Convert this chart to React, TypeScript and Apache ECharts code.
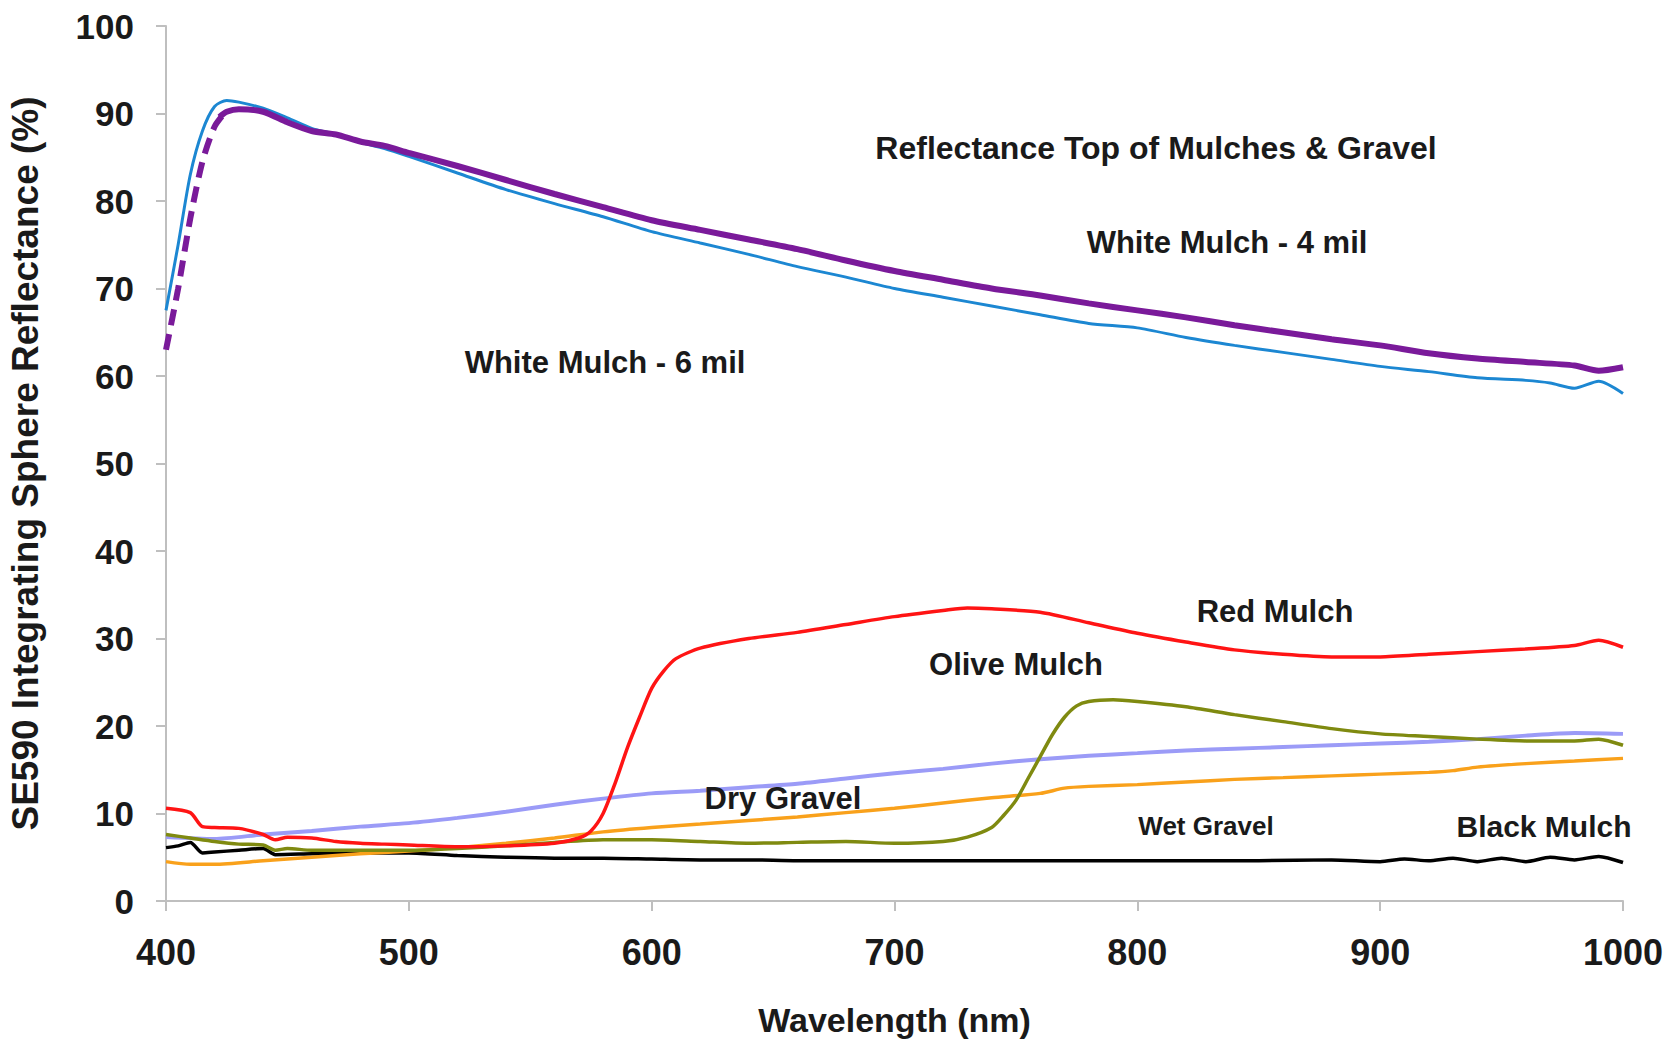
import React, { useEffect, useRef } from "react";
import * as echarts from "echarts";

// Wavelength (nm) sample points per series, reflectance (%) values
const xTicks = [400, 500, 600, 700, 800, 900, 1000];

const mulch6Wl = [400, 405, 410, 415, 420, 425, 430, 440, 450, 460, 470, 480, 490, 500, 520, 540, 560, 580, 600, 620, 640, 660, 680, 700, 720, 740, 760, 780, 800, 820, 840, 860, 880, 900, 920, 940, 960, 970, 980, 990, 1000];
const mulch6Val = [67.5, 75, 83, 88, 90.8, 91.5, 91.3, 90.6, 89.5, 88.3, 87.6, 86.7, 86, 85.1, 83.2, 81.3, 79.7, 78.2, 76.5, 75.2, 73.9, 72.5, 71.3, 70, 69, 68, 67, 66, 65.5, 64.4, 63.5, 62.7, 61.9, 61.1, 60.5, 59.8, 59.5, 59.2, 58.6, 59.4, 58];

const mulch4DashWl = [400, 405, 410, 415, 420, 424];
const mulch4DashVal = [63, 70, 78, 84.5, 88.5, 90];
const mulch4Wl = [422, 425, 430, 440, 450, 460, 470, 480, 490, 500, 520, 540, 560, 580, 600, 620, 640, 660, 680, 700, 720, 740, 760, 780, 800, 820, 840, 860, 880, 900, 920, 940, 960, 980, 990, 1000];
const mulch4Val = [89.6, 90.2, 90.5, 90.2, 89, 88, 87.6, 86.8, 86.3, 85.5, 84, 82.4, 80.8, 79.3, 77.8, 76.7, 75.6, 74.5, 73.2, 72, 71, 70, 69.2, 68.3, 67.5, 66.7, 65.8, 65, 64.2, 63.5, 62.6, 62, 61.6, 61.2, 60.6, 61];

const redWl = [400, 410, 415, 420, 430, 440, 445, 450, 460, 470, 480, 490, 500, 520, 540, 560, 570, 575, 580, 585, 590, 595, 600, 605, 610, 620, 640, 660, 680, 700, 720, 730, 740, 760, 780, 800, 820, 840, 860, 880, 900, 920, 940, 960, 980, 990, 1000];
const redVal = [10.6, 10.1, 8.5, 8.4, 8.3, 7.6, 7.0, 7.3, 7.2, 6.8, 6.6, 6.5, 6.4, 6.2, 6.3, 6.6, 7.2, 8, 10, 13.5, 17.5, 21, 24.3, 26.3, 27.7, 28.9, 30, 30.7, 31.6, 32.5, 33.2, 33.5, 33.4, 33, 31.8, 30.6, 29.6, 28.7, 28.2, 27.9, 27.9, 28.2, 28.5, 28.8, 29.2, 29.8, 29];

const oliveWl = [400, 410, 420, 430, 440, 445, 450, 460, 480, 500, 520, 540, 560, 580, 600, 620, 640, 660, 680, 700, 720, 730, 740, 745, 750, 755, 760, 765, 770, 775, 780, 790, 800, 820, 840, 860, 880, 900, 920, 940, 960, 980, 990, 1000];
const oliveVal = [7.6, 7.2, 6.8, 6.5, 6.4, 5.8, 6.0, 5.8, 5.8, 5.8, 6.0, 6.3, 6.7, 7.0, 7.0, 6.8, 6.6, 6.7, 6.8, 6.6, 6.8, 7.3, 8.4, 9.8, 11.5, 14, 16.5, 19, 21, 22.3, 22.8, 23, 22.8, 22.2, 21.3, 20.5, 19.7, 19.1, 18.8, 18.5, 18.3, 18.3, 18.5, 17.8];

const dryWl = [400, 420, 440, 460, 480, 500, 520, 540, 560, 580, 600, 620, 640, 660, 680, 700, 720, 740, 760, 780, 800, 820, 840, 860, 880, 900, 920, 940, 960, 980, 1000];
const dryVal = [7.3, 7.1, 7.6, 8.0, 8.5, 8.9, 9.5, 10.2, 11, 11.7, 12.3, 12.6, 13, 13.4, 14, 14.6, 15.1, 15.7, 16.2, 16.6, 16.9, 17.2, 17.4, 17.6, 17.8, 18, 18.2, 18.5, 18.9, 19.2, 19.1];

const wetWl = [400, 410, 420, 440, 460, 480, 500, 520, 540, 560, 580, 600, 620, 640, 660, 680, 700, 720, 740, 760, 770, 780, 800, 820, 840, 860, 880, 900, 920, 930, 940, 960, 980, 1000];
const wetVal = [4.5, 4.2, 4.2, 4.6, 5.0, 5.4, 5.7, 6.1, 6.6, 7.2, 7.9, 8.4, 8.8, 9.2, 9.6, 10.1, 10.6, 11.2, 11.8, 12.3, 12.9, 13.1, 13.3, 13.6, 13.9, 14.1, 14.3, 14.5, 14.7, 14.9, 15.3, 15.7, 16, 16.3];

const blackWl = [400, 405, 410, 415, 420, 430, 440, 445, 460, 480, 500, 520, 540, 560, 580, 600, 620, 640, 660, 700, 750, 800, 850, 880, 900, 910, 920, 930, 940, 950, 960, 970, 980, 990, 1000];
const blackVal = [6.1, 6.3, 6.7, 5.5, 5.6, 5.8, 6.0, 5.3, 5.4, 5.5, 5.5, 5.2, 5.0, 4.9, 4.9, 4.8, 4.7, 4.7, 4.6, 4.6, 4.6, 4.6, 4.6, 4.7, 4.5, 4.8, 4.6, 4.9, 4.5, 4.9, 4.5, 5.0, 4.7, 5.1, 4.4];

const labels = [
  { text: "Reflectance Top of Mulches & Gravel", x: 1156, y: 148, size: 32 },
  { text: "White Mulch - 4 mil", x: 1227, y: 242, size: 31 },
  { text: "White Mulch - 6 mil", x: 605, y: 362, size: 31 },
  { text: "Red Mulch", x: 1275, y: 611, size: 31 },
  { text: "Olive Mulch", x: 1016, y: 664, size: 31 },
  { text: "Dry Gravel", x: 783, y: 798, size: 31 },
  { text: "Wet Gravel", x: 1206, y: 826, size: 26 },
  { text: "Black Mulch", x: 1544, y: 826, size: 30 },
];

const zip = (a: number[], b: number[]) => a.map((v, i) => [v, b[i]]);

export default function App() {
  const ref = useRef<HTMLDivElement>(null);
  useEffect(() => {
    if (!ref.current) return;
    const chart = echarts.init(ref.current, null, { renderer: "svg" });
    const font = "Liberation Sans, Arial, sans-serif";
    const line = (name: string, wl: number[], val: number[], color: string, width: number, extra: any = {}) => ({
      type: "line",
      name,
      data: zip(wl, val),
      showSymbol: false,
      smooth: 0.25,
      lineStyle: { color, width, ...extra },
      itemStyle: { color },
      z: 2,
    });
    chart.setOption({
      animation: false,
      backgroundColor: "#ffffff",
      grid: { left: 166, right: 52, top: 26, bottom: 141, containLabel: false, outerBoundsMode: "none" },
      xAxis: {
        type: "value",
        min: xTicks[0],
        max: xTicks[xTicks.length - 1],
        interval: 100,
        name: "Wavelength (nm)",
        nameLocation: "middle",
        nameGap: 102,
        nameTextStyle: { fontFamily: font, fontWeight: "bold", fontSize: 34, color: "#1a1a1a" },
        axisLine: { lineStyle: { color: "#bfbfbf", width: 2 } },
        axisTick: { show: true, inside: false, length: 10, lineStyle: { color: "#bfbfbf", width: 2 } },
        axisLabel: { fontFamily: font, fontWeight: "bold", fontSize: 36, color: "#1a1a1a", margin: 33, formatter: (v: number) => String(v) },
        splitLine: { show: false },
      },
      yAxis: {
        type: "value",
        min: 0,
        max: 100,
        interval: 10,
        name: "SE590 Integrating Sphere Reflectance (%)",
        nameLocation: "middle",
        nameGap: 122,
        nameTextStyle: { fontFamily: font, fontWeight: "bold", fontSize: 37, color: "#1a1a1a" },
        axisLine: { show: true, lineStyle: { color: "#bfbfbf", width: 2 } },
        axisTick: { show: true, inside: false, length: 10, lineStyle: { color: "#bfbfbf", width: 2 } },
        axisLabel: { fontFamily: font, fontWeight: "bold", fontSize: 35, color: "#1a1a1a", margin: 32 },
        splitLine: { show: false },
      },
      series: [
        line("Black Mulch", blackWl, blackVal, "#000000", 3.5),
        line("Wet Gravel", wetWl, wetVal, "#f9a11b", 3.5),
        line("Dry Gravel", dryWl, dryVal, "#9b9bf7", 4),
        line("Olive Mulch", oliveWl, oliveVal, "#7f8a10", 3.5),
        line("Red Mulch", redWl, redVal, "#ff1414", 3.5),
        line("White Mulch - 6 mil", mulch6Wl, mulch6Val, "#1c87d2", 3),
        line("White Mulch - 4 mil", mulch4DashWl, mulch4DashVal, "#7a1a9a", 6, { type: [16, 9] }),
        line("White Mulch - 4 mil", mulch4Wl, mulch4Val, "#7a1a9a", 6),
      ],
      graphic: labels.map((l) => ({
        type: "text",
        x: l.x,
        y: l.y,
        style: {
          text: l.text,
          fontFamily: font,
          fontSize: l.size,
          fontWeight: "bold",
          fill: "#1a1a1a",
          textAlign: "center",
          textVerticalAlign: "middle",
        },
        z: 10,
      })),
    });
    return () => chart.dispose();
  }, []);
  return <div ref={ref} style={{ position: "fixed", left: 0, top: 0, width: 1675, height: 1042 }} />;
}
